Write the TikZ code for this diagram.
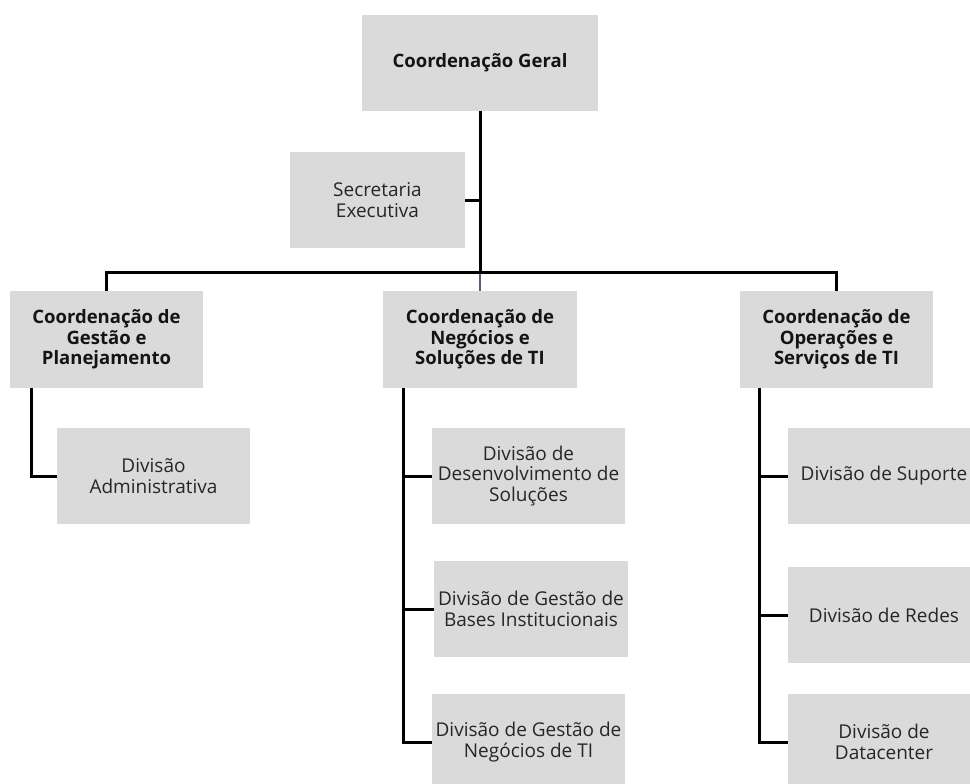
\documentclass[tikz,border=0pt]{standalone}
\usepackage{fontspec}
\setmainfont{Open Sans}
\definecolor{boxgray}{HTML}{DADADA}
\definecolor{txtgray}{HTML}{262626}
\definecolor{linkpurple}{HTML}{65587A}
\tikzset{
  box/.style={fill=boxgray, inner sep=0pt, align=center, minimum height=96pt, text=txtgray,
    font=\fontsize{19}{20.5}\selectfont},
  headbox/.style={box, text=black!92, font=\bfseries\fontsize{18.5}{20.5}\selectfont},
  conn/.style={line width=3pt, black},
}
\begin{document}
\begin{tikzpicture}[x=1pt,y=-1pt]
\useasboundingbox (0,0) rectangle (970,784);
\clip (0,0) rectangle (970,784);
% nodes
\node[headbox, minimum width=236pt] (geral) at (480,63) {Coordenação Geral};
\node[box, minimum width=175pt] (sec) at (377.5,200) {Secretaria\\Executiva};
\node[headbox, minimum width=193pt, minimum height=97pt] (cgp) at (106.5,339.5) {Coordenação de\\Gestão e\\Planejamento};
\node[headbox, minimum width=194pt, minimum height=97pt] (cns) at (480,339.5) {Coordenação de\\Negócios e\\Soluções de TI};
\node[headbox, minimum width=193pt, minimum height=97pt] (cos) at (836.5,339.5) {Coordenação de\\Operações e\\Serviços de TI};
\node[box, minimum width=193pt] (adm) at (153.5,476) {Divisão\\Administrativa};
\node[box, minimum width=193pt] (des) at (528.5,476) {Divisão de\\Desenvolvimento de\\Soluções};
\node[box, minimum width=194pt] (bas) at (531,609) {Divisão de Gestão de\\Bases Institucionais};
\node[box, minimum width=193pt] (neg) at (528.5,742) {Divisão de Gestão de\\Negócios de TI};
\node[box, minimum width=192pt] (sup) at (884,476) {Divisão de Suporte};
\node[box, minimum width=192pt] (red) at (884,615) {Divisão de Redes};
\node[box, minimum width=192pt] (dat) at (884,742) {Divisão de\\Datacenter};
% connectors
\coordinate (hub) at (480,272);
\draw[conn] (geral.south) -- (hub);
\draw[line width=2.5pt, linkpurple] (hub) -- (cns.north);
\draw[conn] (sec.east) -- (sec.east -| hub);
\draw[conn] (cgp.north) |- (hub) -| (cos.north);
% left column
\draw[conn] ([xshift=22pt]cgp.south west) |- (adm.west);
% middle column
\coordinate (mtop) at ([xshift=21pt]cns.south west);
\draw[conn] (mtop) |- (neg.west);
\draw[conn] (mtop |- des.west) -- (des.west);
\draw[conn] (mtop |- bas.west) -- (bas.west);
% right column
\coordinate (rtop) at ([xshift=20pt]cos.south west);
\draw[conn] (rtop) |- (dat.west);
\draw[conn] (rtop |- sup.west) -- (sup.west);
\draw[conn] (rtop |- red.west) -- (red.west);
\end{tikzpicture}
\end{document}
